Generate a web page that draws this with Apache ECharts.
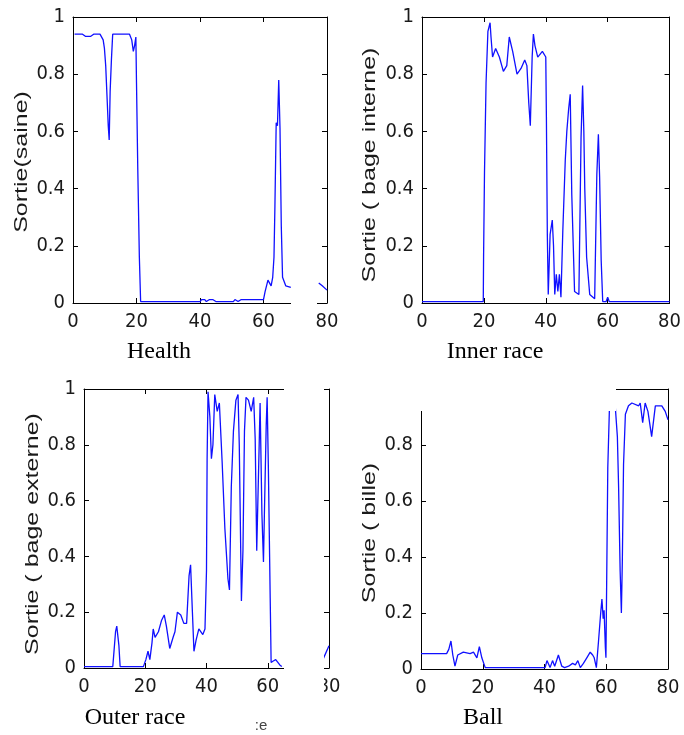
<!DOCTYPE html>
<html><head><meta charset="utf-8">
<script src="https://cdn.jsdelivr.net/npm/echarts@6/dist/echarts.min.js"></script>
<style>html,body{margin:0;padding:0;background:#fff}#c{width:684px;height:735px}</style>
</head><body><div id="c"></div>
<script>
// ---- data (x position, output value) ----
const healthX = [0.5,3,4,5.5,6.5,8.5,9.5,9.9,10.3,10.8,11.1,11.4,11.7,12.1,12.5,14.5,15,15.5,17.8,18.5,19,19.4,19.8,20,20.4,20.9,21.3,40,40.5,41.5,42,43,44,45,50.5,51,52,53,60,60.5,61.4,62.4,62.9,63.3,63.6,64,64.4,64.8,65.2,65.6,66,67,68.6,72,77.4,78.5,80];
const healthY = [0.94,0.94,0.932,0.932,0.94,0.94,0.92,0.89,0.83,0.7,0.62,0.57,0.74,0.85,0.94,0.94,0.935,0.94,0.94,0.92,0.88,0.9,0.93,0.77,0.47,0.16,0.005,0.005,0.012,0.012,0.005,0.012,0.012,0.005,0.005,0.012,0.005,0.012,0.012,0.04,0.08,0.06,0.09,0.16,0.34,0.63,0.62,0.78,0.61,0.27,0.09,0.06,0.055,null,0.07,0.06,0.045];

const innerX = [0,19.8,19.9,20.2,20.7,21.3,22,22.3,22.8,23.8,25,26.3,27.4,28.2,29.3,30.7,32,33.2,33.9,34.5,35,35.6,36,36.5,37.4,38.9,40,40.2,40.5,40.8,41.4,42.1,42.5,42.9,43.4,43.9,44.4,44.9,45.5,46.3,46.8,47.4,47.9,48.4,49.3,50.7,51.4,51.9,52.3,52.6,53.2,54.2,55.8,56.5,57,57.4,57.9,58.4,59.5,60,60.5,80];
const innerY = [0.005,0.005,0.16,0.46,0.77,0.95,0.98,0.93,0.86,0.89,0.86,0.81,0.83,0.93,0.88,0.8,0.82,0.85,0.83,0.7,0.62,0.86,0.94,0.9,0.86,0.88,0.86,0.65,0.24,0.03,0.24,0.29,0.2,0.03,0.1,0.04,0.1,0.02,0.25,0.5,0.6,0.68,0.73,0.38,0.04,0.03,0.58,0.76,0.6,0.4,0.16,0.03,0.015,0.45,0.59,0.44,0.15,0.005,0.005,0.02,0.005,0.005];

const outerX = [0,9.4,10.3,10.7,11.4,11.8,19.4,20.2,20.9,21.5,22.2,22.6,23.2,24.3,25.3,26.2,26.9,28,29.1,29.7,30.5,31.6,32.6,33.5,34.3,34.8,35.4,35.9,36.6,37.5,38.8,39.5,40,40.2,40.5,41.1,41.6,42.1,42.7,43.5,44.2,45.1,46,47,47.5,48.1,48.8,49.6,50.3,50.7,51.4,51.9,52.4,52.9,53.7,54.6,55.4,55.9,56.4,57.2,57.5,58.1,58.6,58.9,59.5,59.8,60.2,60.8,61.1,61.8,62.6,64,64.6,70,78,80];
const outerY = [0.005,0.005,0.13,0.15,0.08,0.005,0.005,0.03,0.06,0.03,0.09,0.14,0.11,0.13,0.17,0.19,0.15,0.07,0.11,0.13,0.2,0.19,0.16,0.16,0.33,0.37,0.2,0.06,0.1,0.14,0.12,0.14,0.35,0.75,0.99,0.9,0.75,0.8,0.98,0.92,0.95,0.74,0.5,0.32,0.28,0.65,0.85,0.96,0.98,0.8,0.24,0.42,0.85,0.97,0.96,0.92,0.97,0.82,0.42,0.8,0.95,0.55,0.38,0.55,0.87,0.97,0.72,0.25,0.02,0.025,0.03,0.01,0.005,null,0.03,0.08];

const ballX = [0,3.5,4,5.5,8.3,9,9.7,10.3,11,11.9,13.7,15.9,17,18.1,18.9,19.7,20.8,40.2,40.8,41.8,42.6,43.3,44.5,45.6,46.5,47.8,49.1,50,50.8,51.6,52.6,53.7,54.8,55.6,56.1,56.8,57.5,58.2,58.6,59,59.3,59.7,59.9,60.1,60.5,61,61.5,62.4,62.9,63.6,64,64.5,64.9,65.2,65.6,66.2,67.2,68.3,70.5,71,71.8,72.6,73.5,74.3,74.7,75.9,78,79.1,80];
const ballY = [0.055,0.055,0.06,0.055,0.055,0.07,0.1,0.05,0.01,0.05,0.06,0.055,0.06,0.04,0.08,0.04,0.005,0.005,0.03,0.005,0.03,0.01,0.05,0.01,0.005,0.01,0.02,0.015,0.03,0.005,0.02,0.04,0.06,0.05,0.04,0.005,0.1,0.2,0.25,0.18,0.21,0.08,0.04,0.27,0.72,0.92,0.97,0.97,0.94,0.83,0.65,0.35,0.2,0.38,0.73,0.91,0.94,0.95,0.94,0.95,0.88,0.95,0.92,0.86,0.83,0.94,0.94,0.92,0.89];

const xTicks = {min: 0, max: 80, interval: 20};
const yTicks = {min: 0, max: 1, interval: 0.2};
const yNames = ['Sortie(saine)', 'Sortie ( bage interne)', 'Sortie ( bage externe)', 'Sortie ( bille)'];
const titles = ['Health', 'Inner race', 'Outer race', 'Ball'];

// ---- layout ----
const grids = [
  {left: 73, top: 17, width: 254, height: 286},
  {left: 422, top: 17, width: 253, height: 286},
  {left: 84, top: 389, width: 245, height: 279},
  {left: 421, top: 389, width: 247, height: 280}
];
const seriesXY = [[healthX, healthY], [innerX, innerY], [outerX, outerY], [ballX, ballY]];

const lab = {fontFamily: "'Liberation Sans Narrow','DejaVu Sans Condensed','Roboto Condensed','Open Sans Condensed','Liberation Sans',sans-serif", fontSize: 20, color: '#1a1a1a'};
const line = {show: true, onZero: false, lineStyle: {color: '#000', width: 1}};
const tick = {show: true, inside: true, length: 5, lineStyle: {color: '#000'}};

const xAxis = [], yAxis = [], series = [];
grids.forEach((g, i) => {
  xAxis.push({gridIndex: i, type: 'value', position: 'bottom', ...xTicks, axisLine: line, axisTick: tick,
    axisLabel: {...lab, margin: 9}, splitLine: {show: false}});
  xAxis.push({gridIndex: i, type: 'value', position: 'top', ...xTicks, axisLine: line, axisTick: tick,
    axisLabel: {show: false}, splitLine: {show: false}});
  yAxis.push({gridIndex: i, type: 'value', position: 'left', ...yTicks, axisLine: line, axisTick: tick,
    axisLabel: {...lab, margin: 8}, splitLine: {show: false}});
  yAxis.push({gridIndex: i, type: 'value', position: 'right', ...yTicks, axisLine: line, axisTick: tick,
    axisLabel: {show: false}, splitLine: {show: false}});
  const [xs, ys] = seriesXY[i];
  series.push({type: 'line', xAxisIndex: 2 * i, yAxisIndex: 2 * i, showSymbol: false, animation: false,
    data: xs.map((x, k) => [x, ys[k] === null ? '-' : ys[k]]),
    lineStyle: {color: '#1010ff', width: 1.3}, clip: true});
});

const yNamePos = [[22, 162], [370, 165], [33, 534], [370, 533]];
const titlePos = [[159, 352], [495, 352], [135, 718], [483, 718]];
const graphic = [];
yNames.forEach((t, i) => graphic.push({type: 'text', x: yNamePos[i][0], y: yNamePos[i][1], rotation: Math.PI / 2,
  scaleX: 1, scaleY: 0.7, z: 50,
  style: {text: t, fontFamily: "'Liberation Sans',Arial,sans-serif", fontSize: 25, fill: '#1a1a1a', textAlign: 'center', textVerticalAlign: 'middle'}}));
titles.forEach((t, i) => graphic.push({type: 'text', x: titlePos[i][0], y: titlePos[i][1], z: 50,
  style: {text: t, fontFamily: "'Liberation Serif','Times New Roman',serif", fontSize: 24, fill: '#000', textAlign: 'center', textVerticalAlign: 'middle'}}));
// scan cropping artefacts (blank patches of the original figure)
const white = {fill: '#fff'};
graphic.push({type: 'rect', z: 100, shape: {x: 291, y: 298, width: 26, height: 10}, style: white});
graphic.push({type: 'rect', z: 100, shape: {x: 284, y: 378, width: 40, height: 325}, style: white});
graphic.push({type: 'rect', z: 100, shape: {x: 400, y: 376, width: 216, height: 35}, style: white});
graphic.push({type: 'text', x: 261, y: 726, z: 50, style: {text: ':e', fontFamily: "'Liberation Sans',sans-serif", fontSize: 15, fill: '#444', textAlign: 'center', textVerticalAlign: 'middle'}});

const chart = echarts.init(document.getElementById('c'), null, {renderer: 'canvas'});
chart.setOption({animation: false, backgroundColor: '#fff', grid: grids, xAxis, yAxis, series, graphic});
</script></body></html>
